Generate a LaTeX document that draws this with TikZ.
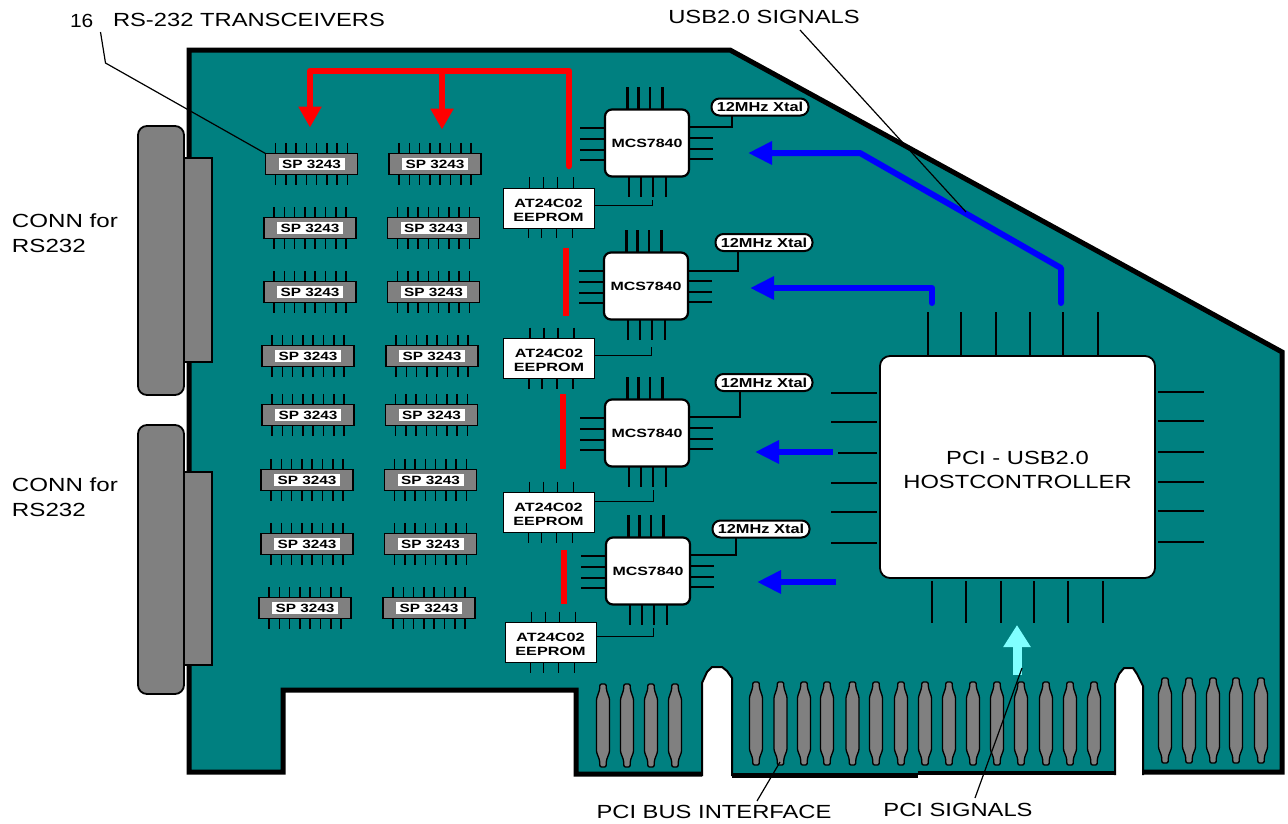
\documentclass[tikz,border=0pt]{standalone}
\usepackage{fontspec}
\usepackage{graphicx}
\setmainfont{Liberation Sans}
\usetikzlibrary{arrows.meta,calc}
\definecolor{board}{HTML}{008080}
\definecolor{chipgray}{HTML}{808080}
\definecolor{redbus}{HTML}{FF0000}
\definecolor{bluebus}{HTML}{0000FF}
\definecolor{cyanbus}{HTML}{80FFFF}
\newcommand{\wide}[2]{\scalebox{#1}[1]{#2}}
\tikzset{
  x=1pt,y=-1pt,
  pin line/.style={black,line width=1.6pt},
  mcs pin/.style={black,line width=2.3pt},
  host pin/.style={black,line width=1.8pt},
  soic/.style={draw=black,line width=1.6pt,fill=chipgray,minimum width=92pt,minimum height=21pt,inner sep=0pt,outer sep=0pt},
  soiclabel/.style={fill=white,minimum width=66pt,minimum height=12pt,inner sep=0pt,font=\fontsize{12}{12}\selectfont\bfseries},
  mcsbox/.style={draw=black,line width=2.2pt,fill=white,rounded corners=7pt,minimum width=84pt,minimum height=67pt,inner sep=0pt,outer sep=0pt,font=\fontsize{12}{13}\selectfont\bfseries},
  eebox/.style={draw=black,line width=1pt,fill=white,minimum width=91pt,minimum height=40pt,inner sep=0pt,outer sep=0pt},
  eetext/.style={inner sep=0pt,outer sep=0pt,align=center,font=\fontsize{12}{14}\selectfont\bfseries},
  xtal/.style={draw=black,line width=2pt,fill=white,rounded corners=8pt,minimum width=97pt,minimum height=17pt,inner sep=0pt,outer sep=0pt,font=\fontsize{13}{13}\selectfont\bfseries},
  hostbox/.style={draw=black,line width=1.8pt,fill=white,rounded corners=10pt,minimum width=275pt,minimum height=222pt,inner sep=0pt,outer sep=0pt},
  hosttext/.style={inner sep=0pt,outer sep=0pt,align=center,font=\fontsize{19}{24}\selectfont},
  connbody/.style={draw=black,line width=1.8pt,fill=chipgray},
  finger/.style={draw=black,line width=1.3pt,fill=chipgray,rounded corners=1.2pt},
  lab/.style={inner sep=0pt,outer sep=0pt,font=\fontsize{19}{25}\selectfont,align=left},
  leader/.style={black,line width=1.2pt},
  redbar/.style={redbus,line width=6.5pt},
  bluebar/.style={bluebus,line width=6pt},
  redhead/.style={-{Triangle[length=21pt,width=22pt,fill=redbus]}},
  bluehead/.style={-{Triangle[length=24pt,width=22pt,fill=bluebus]}},
}
\newcommand{\soicchip}[3]{%
  \foreach \i in {-36,-25.7,-15.4,-5.1,5.1,15.4,25.7,36}{%
    \draw[pin line] (#2+\i,#3-21)--(#2+\i,#3+21);}
  \node[soic] (#1) at (#2,#3) {};
  \node[soiclabel] (#1t) at (#2,#3) {\wide{1.28}{SP 3243}};
}
\newcommand{\mcschip}[3]{%
  \foreach \i in {-19.5,-8.5,3,15.5}{\draw[mcs pin] (#2+\i,#3-56)--(#2+\i,#3);}
  \foreach \i in {-18,-6,6,19}{\draw[mcs pin] (#2+\i,#3)--(#2+\i,#3+54);}
  \foreach \i in {-15,-4,7,17}{\draw[mcs pin] (#2-67,#3+\i)--(#2,#3+\i);}
  \foreach \i in {-5,6,16}{\draw[mcs pin] (#2,#3+\i)--(#2+66,#3+\i);}
  \node[mcsbox] (#1) at (#2,#3) {\wide{1.33}{MCS7840}};
}
\newcommand{\eechip}[3]{%
  \foreach \i in {-19,-5,9,25}{\draw[pin line] (#2+\i,#3-31)--(#2+\i,#3);}
  \foreach \i in {-20,-7,8,24}{\draw[pin line] (#2+\i,#3)--(#2+\i,#3+30);}
  \node[eebox] (#1) at (#2,#3) {};
  \node[eetext] (#1t) at (#2,#3+2) {\wide{1.35}{AT24C02}\\\wide{1.35}{EEPROM}};
}
\newcommand{\fingers}[3]{%
  \foreach \x in {#1}{\draw[finger] (\x-3,#2)--(\x+3,#2)--(\x+3.5,#2+6)--(\x+6.5,#2+15)--(\x+6.5,#3-15)--(\x+3.5,#3-7)--(\x+3,#3)--(\x-3,#3)--(\x-3.5,#3-7)--(\x-6.5,#3-15)--(\x-6.5,#2+15)--(\x-3.5,#2+6)--cycle;}
}
\begin{document}
\begin{tikzpicture}
\useasboundingbox (0,0) rectangle (1288,823);
% board
\fill[board]
 (189,50)--(730,50)--(1282,352)--(1282,772)--(1143,772)--(1143,686)--(1137,674)--(1133,668)--(1124,668)--(1119,674)--(1115,684)
 --(1115,773)--(732,775)--(732,678)--(727,671)--(722,667)--(712,667)--(707,672)--(702,683)--(702,774)--(576,774)--(576,690)--(283,690)--(283,772)--(189,772)--cycle;
\draw[black,line width=5pt,line join=miter]
 (702,774)--(576,774)--(576,690)--(283,690)--(283,772)--(189,772)--(189,50)--(730,50)--(1282,352)--(1282,772)--(1143,772);
\draw[black,line width=5pt] (732,775)--(918,775);
\draw[black,line width=4pt] (918,773)--(1115,773);
\draw[black,line width=2pt,line join=round]
 (702,776)--(702,683)--(707,672)--(712,667)--(722,667)--(727,671)--(732,678)--(732,776);
\draw[black,line width=2pt,line join=round]
 (1115,775)--(1115,684)--(1119,674)--(1124,668)--(1133,668)--(1137,674)--(1143,686)--(1143,775);
\fingers{603,627,651,675}{684}{767}
\fingers{756,780.5,804,827,852.5,876,901,925,949,973,997,1021,1046,1070,1094}{682}{765}
\fingers{1165,1189,1213,1236,1261}{678}{763}
% connectors
\node[connbody,minimum width=28pt,minimum height=204pt,inner sep=0pt] (connA) at (198,260) {};
\node[connbody,minimum width=28pt,minimum height=193pt,inner sep=0pt] (connB) at (198,568.5) {};
\draw[connbody,rounded corners=9pt] (138,126) rectangle (184,395);
\draw[connbody,rounded corners=9pt] (138,425) rectangle (184,694);
% transceivers
\soicchip{a1}{311.5}{164}\soicchip{b1}{435}{164}
\soicchip{a2}{310}{228}\soicchip{b2}{433.5}{228}
\soicchip{a3}{310}{292}\soicchip{b3}{433.5}{292}
\soicchip{a4}{308}{356}\soicchip{b4}{432}{356}
\soicchip{a5}{308}{415}\soicchip{b5}{431.5}{415}
\soicchip{a6}{307}{480}\soicchip{b6}{430.5}{480}
\soicchip{a7}{307}{544}\soicchip{b7}{430.5}{544}
\soicchip{a8}{305}{608}\soicchip{b8}{429}{608}
% MCS chips
\mcschip{m1}{647}{143}\mcschip{m2}{646}{286}\mcschip{m3}{647}{433}\mcschip{m4}{648}{571}
% EEPROMs
\eechip{e1}{548.5}{208}\eechip{e2}{549}{358.5}\eechip{e3}{548.5}{512.5}\eechip{e4}{550.5}{642.5}
\draw[black,line width=1pt] (e1.east|-0,205)-|(652,200);
\draw[black,line width=1pt] (e2.east|-0,355)-|(651,347);
\draw[black,line width=1pt] (e3.east|-0,501)-|(653,490);
\draw[black,line width=1pt] (e4.east|-0,636)-|(653,628);
% Xtals
\node[xtal] (x1) at (760,107) {\wide{1.26}{12MHz Xtal}};
\node[xtal] (x2) at (764,242.5) {\wide{1.26}{12MHz Xtal}};
\node[xtal] (x3) at (764,382.5) {\wide{1.26}{12MHz Xtal}};
\node[xtal] (x4) at (761,529) {\wide{1.26}{12MHz Xtal}};
\draw[mcs pin] (m1.east|-0,127)-|(x1.south-|732,0);
\draw[mcs pin] (m2.east|-0,271)-|(x2.south-|738,0);
\draw[mcs pin] (m3.east|-0,417)-|(x3.south-|740,0);
\draw[mcs pin] (m4.east|-0,555)-|(x4.south-|736,0);
% host
\node[hostbox] (host) at (1017.5,467) {};
\node[hosttext] (hostt) at (1017.5,470) {\wide{1.25}{PCI - USB2.0}\\\wide{1.25}{HOSTCONTROLLER}};
\foreach \x in {928,961,996,1030,1063,1098}{\draw[host pin] (\x,312)--(\x,355);}
\foreach \x in {932,966,1001,1034,1068,1103}{\draw[host pin] (\x,581)--(\x,623);}
\foreach \y in {393,422,483,512,543}{\draw[host pin] (831,\y)--(877,\y);}
\draw[host pin] (838,453)--(877,453);
\foreach \y in {392,421,452,482,511,542}{\draw[host pin] (1158,\y)--(1204,\y);}
% buses
\coordinate (r0) at (569,166);
\coordinate (r1) at (569,71);
\coordinate (r2) at (310,71);
\coordinate (r3) at (442,71);
\draw[redbar,redhead,line cap=round,line join=round] (r0)--(r1)--(r2)--($(a1.north)+(-1.5,-26)$);
\draw[redbar,redhead] (r3)--($(b1.north)+(7,-24)$);
\draw[redbar] (566,248)--(566,316);
\draw[redbar] (563,394)--(563,469);
\draw[redbar] (564,550)--(564,604);
\draw[bluebar,bluehead,line join=round,line cap=round] (1061,303)--(1061,268)--(860,153)--(748,153);
\draw[bluebar,bluehead,line join=round,line cap=round] (932,303)--(932,288)--(750,288);
\draw[bluebar,bluehead] (833,452)--(755,452);
\draw[bluebar,bluehead] (836,582)--(757,582);
\draw[cyanbus,line width=9pt,-{Triangle[length=22pt,width=26pt,fill=cyanbus]}] (1017,675)--(1017,625);
% labels
\node[lab,anchor=west] (n16) at (70,21) {\wide{1.1}{16}};
\node[lab,anchor=west] (rs) at (113,20) {\wide{1.25}{RS-232 TRANSCEIVERS}};
\node[lab,anchor=north west] (c1) at (12,214) {\wide{1.27}{CONN for}\\\wide{1.27}{RS232}};
\node[lab,anchor=north west] (c2) at (12,477.5) {\wide{1.27}{CONN for}\\\wide{1.27}{RS232}};
\node[lab] (usb) at (764,17) {\wide{1.25}{USB2.0 SIGNALS}};
\node[lab] (pbi) at (714,812) {\wide{1.25}{PCI BUS INTERFACE}};
\node[lab] (psi) at (958,810) {\wide{1.25}{PCI SIGNALS}};
\coordinate (k16s) at (100.5,32);
\coordinate (k16) at (105.5,63);
\coordinate (kusbs) at (800,30);
\coordinate (kusb) at (966,212);
\coordinate (kpbi) at (780,762);
\coordinate (kpbis) at (757,801);
\coordinate (kpsi) at (1022,668);
\coordinate (kpsis) at (975,798);
\draw[leader] (k16s)--(k16)--(a1.north west);
\draw[leader] (kusbs)--(kusb);
\draw[leader] (kpbis)--(kpbi);
\draw[leader] (kpsis)--(kpsi);
\end{tikzpicture}
\end{document}
